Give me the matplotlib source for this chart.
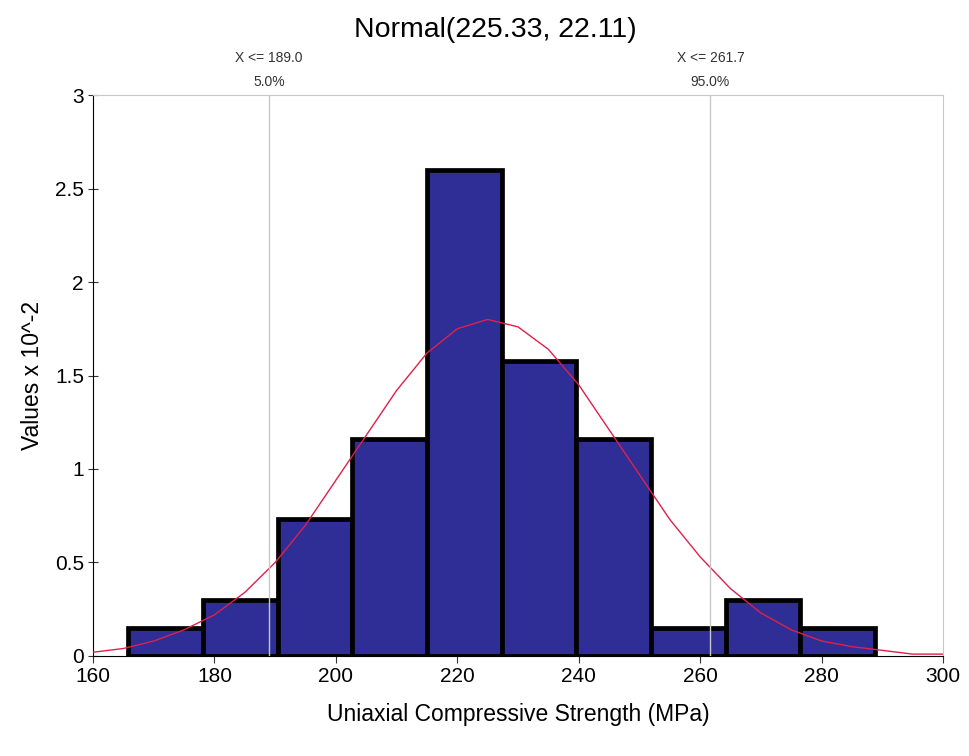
import numpy as np
import matplotlib.pyplot as plt

plt.rcParams["font.family"] = ["Liberation Sans", "DejaVu Sans"]

# histogram (density x 10^-2), bins of ~12.3 MPa
bin_edges = [165.8, 178.1, 190.4, 202.7, 215.0, 227.3, 239.6, 251.9, 264.2, 276.5, 288.8]
bin_heights = [0.15, 0.30, 0.73, 1.16, 2.60, 1.58, 1.16, 0.15, 0.30, 0.15]

# fitted normal curve
curve_x = [160, 165, 170, 175, 180, 185, 190, 195, 200, 205, 210, 215, 220, 225, 230,
           235, 240, 245, 250, 255, 260, 265, 270, 275, 280, 285, 290, 295, 300]
curve_y = [0.02, 0.04, 0.08, 0.14, 0.22, 0.34, 0.50, 0.70, 0.94, 1.18, 1.42, 1.62, 1.75, 1.80, 1.76,
           1.64, 1.45, 1.21, 0.97, 0.73, 0.53, 0.36, 0.23, 0.14, 0.08, 0.05, 0.03, 0.01, 0.01]

# percentile markers
marker_x = [189.0, 261.7]
marker_labels = ["X <= 189.0", "X <= 261.7"]
marker_pct = ["5.0%", "95.0%"]

fig = plt.figure(figsize=(9.7, 7.56), dpi=100)
ax = fig.add_axes([0.0959, 0.1323, 0.8763, 0.742])

lefts = np.array(bin_edges[:-1])
widths = np.diff(bin_edges)
ax.bar(lefts, bin_heights, width=widths, align="edge", color="#2e2e96",
       edgecolor="black", linewidth=3.4, zorder=2)

ax.plot(curve_x, curve_y, color="#e0204a", linewidth=1.0, zorder=3)

for mx, lab, pct in zip(marker_x, marker_labels, marker_pct):
    ax.axvline(mx, color="#c8c8c8", linewidth=1.0, zorder=4)
    ax.text(mx, 3.2, lab, ha="center", va="center", fontsize=10, color="#333333", clip_on=False)
    ax.text(mx, 3.07, pct, ha="center", va="center", fontsize=10, color="#333333", clip_on=False)

ax.set_xlim(160, 300)
ax.set_ylim(0, 3)
ax.set_xticks(np.arange(160, 301, 20))
ax.set_yticks([0, 0.5, 1, 1.5, 2, 2.5, 3])
ax.set_yticklabels(["0", "0.5", "1", "1.5", "2", "2.5", "3"])
ax.tick_params(axis="x", labelsize=15, direction="out", length=5, color="#333333", pad=3)
ax.tick_params(axis="y", labelsize=15, direction="inout", length=7, color="#333333", pad=3)

for side in ["top", "right"]:
    ax.spines[side].set_color("#c8c8c8")
for side in ["left", "bottom"]:
    ax.spines[side].set_color("black")

ax.set_xlabel("Uniaxial Compressive Strength (MPa)", fontsize=16.5, labelpad=12)
ax.set_ylabel("Values x 10^-2", fontsize=16.5, labelpad=8)

fig.text(0.511, 0.96, "Normal(225.33, 22.11)", ha="center", va="center", fontsize=20.5)

fig.savefig("out.png", dpi=100)
